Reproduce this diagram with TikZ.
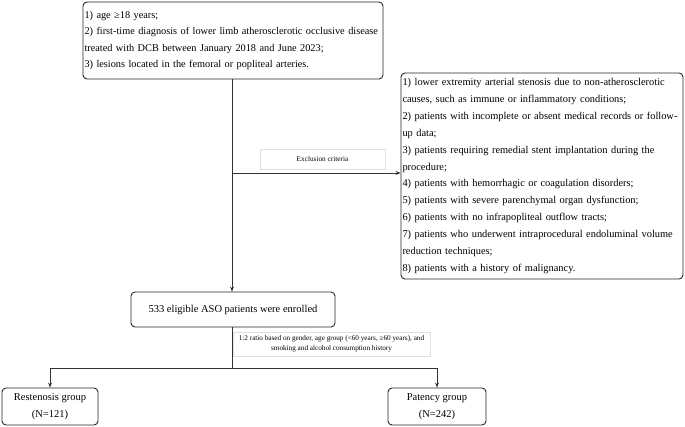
\documentclass[tikz,border=0pt]{standalone}
\usepackage{fontspec}
\setmainfont{Liberation Serif}
\usetikzlibrary{arrows.meta}
\begin{document}
\begin{tikzpicture}[x=1pt,y=-1pt,
  box/.style={draw=black!85,line width=0.9pt,rounded corners=4pt,inner sep=0pt},
  lbl/.style={draw=black!12,line width=0.5pt,inner sep=0pt,align=center},
  conn/.style={draw=black!80,line width=0.9pt},
  arr/.style={conn,-{Stealth[length=5pt,width=4pt]}}]
\useasboundingbox (0,0) rectangle (685,427);
\node[box,minimum width=300pt,minimum height=77pt,text width=297pt,align=left,
  font=\fontsize{10.3}{16.5}\selectfont] (inc) at (233,40.5)
  {1) age ≥18 years;\\
   2) first-time diagnosis of lower limb atherosclerotic occlusive disease\\
   treated with DCB between January 2018 and June 2023;\\
   3) lesions located in the femoral or popliteal arteries.};
\node[box,minimum width=282pt,minimum height=206pt,text width=279pt,align=left,
  font=\fontsize{10.4}{16.9}\selectfont] (exc) at (542,176)
  {1) lower extremity arterial stenosis due to non-atherosclerotic\\
   causes, such as immune or inflammatory conditions;\\
   2) patients with incomplete or absent medical records or follow-\\
   up data;\\
   3) patients requiring remedial stent implantation during the\\
   procedure;\\
   4) patients with hemorrhagic or coagulation disorders;\\
   5) patients with severe parenchymal organ dysfunction;\\
   6) patients with no infrapopliteal outflow tracts;\\
   7) patients who underwent intraprocedural endoluminal volume\\
   reduction techniques;\\
   8) patients with a history of malignancy.};
\node[box,minimum width=204pt,minimum height=35pt,font=\fontsize{10.5}{12}\selectfont]
  (elig) at (233,309.5) {533 eligible ASO patients were enrolled};
\node[box,minimum width=96pt,minimum height=37pt,align=center,
  font=\fontsize{10.5}{17}\selectfont] (rest) at (50,406.5) {Restenosis group\\(N=121)};
\node[box,minimum width=98pt,minimum height=37pt,align=center,
  font=\fontsize{10.5}{17}\selectfont] (pat) at (437,406.5) {Patency group\\(N=242)};
\node[lbl,minimum width=125pt,minimum height=20pt,font=\fontsize{7.3}{8}\selectfont]
  (exlbl) at (322.5,159) {Exclusion criteria};
\node[lbl,minimum width=197pt,minimum height=24pt,font=\fontsize{7.2}{9.5}\selectfont]
  (ratio) at (331.5,344) {1:2 ratio based on gender, age group (<60 years, ≥60 years), and\\
   smoking and alcohol consumption history};
\coordinate (b1) at (232,173);
\coordinate (j) at (232,368);
\draw[arr] (inc.south -| b1) -- (elig.north -| b1);
\draw[arr] (b1) -- (exc.west |- b1);
\draw[conn] (elig.south -| j) -- (j);
\draw[arr] (j) -| (rest.north);
\draw[arr] (j) -| (pat.north);
\end{tikzpicture}
\end{document}
